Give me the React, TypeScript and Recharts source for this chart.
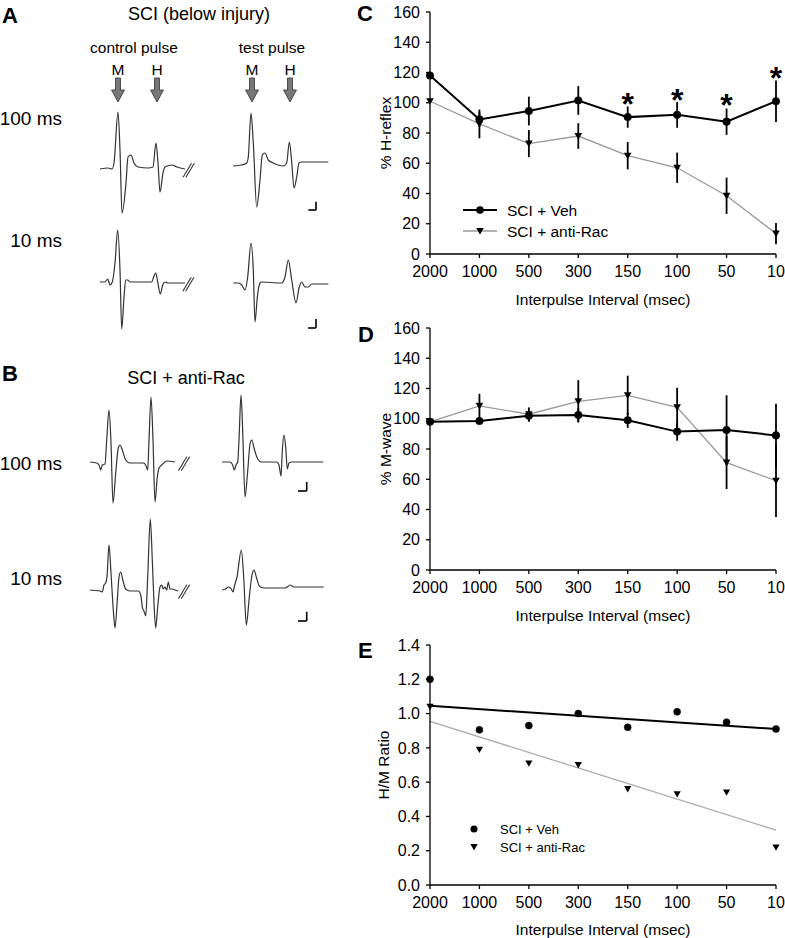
import React from "react";
import { LineChart, Line, XAxis, YAxis, ErrorBar, ReferenceLine } from "recharts";

const font = "'Liberation Sans', Arial, sans-serif";

// x categories shared by C, D, E
const intervals = ["2000", "1000", "500", "300", "150", "100", "50", "10"];

// C: % H-reflex
const hVeh = [118, 89, 94.5, 101.5, 90.5, 92, 87.5, 101];
const hVehErr = [0, 5, 9.5, 9.5, 7, 8.5, 8.7, 13.7];
const hRac = [101, 86, 73, 78, 65, 57, 38.5, 13.5];
const hRacErr = [0, 9.5, 9, 8.5, 9, 10, 12, 7];
const hStar = [null, null, null, null, 104, 106.5, 103, 121];

// D: % M-wave
const mVeh = [98, 98.5, 102, 102.5, 99, 91.5, 92.5, 89];
const mVehErr = [0, 1, 4, 4.5, 5, 6, 23, 21];
const mRac = [98, 108.5, 103, 111.5, 115.5, 107.5, 71, 59];
const mRacErr = [0, 8, 4.5, 14, 13, 13, 17.5, 24];

// E: H/M ratio + regression lines (end values)
const hmVeh = [1.2, 0.905, 0.93, 1.0, 0.92, 1.01, 0.95, 0.91];
const hmRac = [1.04, 0.79, 0.71, 0.7, 0.56, 0.53, 0.54, 0.22];
const hmVehFit = [1.045, null, null, null, null, null, null, 0.91];
const hmRacFit = [0.955, null, null, null, null, null, null, 0.32];

const pctTicks = [0, 20, 40, 60, 80, 100, 120, 140, 160];
const ratioTicks = [0, 0.2, 0.4, 0.6, 0.8, 1.0, 1.2, 1.4];

// EMG traces: time (px-ish units) and amplitude
const aCtl100T = [0, 8, 12, 14, 18, 20, 22, 26, 28, 31, 34, 38, 48, 53, 56, 58, 60, 63, 65, 72, 77, 85];
const aCtl100V = [0, 1, 0, 6, 57, 19, -44, -14, 12, 14, 6, 2, 1, 2, 26, 6, -23, -4, 2, 4, 2, 0];
const aTst100T = [0, 8.7, 13.7, 15.3, 18, 20.3, 23.7, 27, 29.3, 32, 35.3, 40.3, 50.3, 53.7, 56.3, 58.7, 61, 63.7, 66, 68.7, 95.3];
const aTst100V = [0, 1, 3, 9, 53, 23, -41, -14, 11, 13, 6, 3, 0, 3, 24, 4, -22, -11, 3, 4, 4];
const aCtl10T = [0, 5, 7.7, 10, 12.3, 15, 17.7, 20, 21.7, 24, 25.7, 27.7, 30, 51.7, 53.7, 55.7, 57.7, 60.3, 62.7, 65, 67.7, 75, 85];
const aCtl10V = [0, 0, 3, -3, 0, 19, 52, 12, -47, -15, 2, 2, 0, 0, 5, 9, 0, -12, -3, 0, -1, -1, -1];
const aTst10T = [0.3, 5.3, 8.7, 12, 14.7, 18, 20.3, 22, 24.3, 27, 28.7, 48.7, 52, 55.3, 58.7, 63, 66, 68.7, 72, 75.3, 78.7, 95.3];
const aTst10V = [0, 0, -2, -7, 6, 40, 13, -39, -14, 0, 1, 0, 6, 23, 3, -20, -5, 1, -4, -4, -1, -1];
const bCtl100T = [0, 6.7, 9, 10.7, 12.3, 15, 16.7, 19, 21, 23, 25.7, 28.3, 30, 32.3, 35.7, 40, 53.3, 55.7, 57.7, 59, 61, 63, 65, 67.3, 69, 71.7, 76.7, 85];
const bCtl100V = [0, -1, -3, -8, -3, -2, 22, 52, 19, -41, -11, 14, 17, 12, 2, -1, -1, -3, -8, 22, 65, 22, -40, -15, -6, -3, 1, 0];
const bTst100T = [0, 8, 10.7, 12.3, 14, 15.7, 17, 19, 20.7, 23, 25.7, 28, 29.7, 32.3, 35.7, 39.7, 54.7, 57, 59, 60.3, 62, 63.7, 65.3, 67, 69.7, 101.3];
const bTst100V = [0, 0, -3, -8, -3, 0, 22, 67, 31, -35, -9, 18, 22, 13, 3, 0, 0, -3, -14, 11, 27, 15, -7, -1, 0, 0];
const bCtl10T = [0, 10, 12.3, 14, 15.7, 17, 19, 21, 23.3, 25, 27.3, 29, 30.7, 33.3, 35.7, 40, 48.3, 51, 52.3, 54.3, 55.7, 57.7, 60.3, 62.3, 64, 65.7, 67.7, 70, 71.7, 73.3, 75, 76.7, 78.3, 80, 82.3, 85, 88.3];
const bCtl10V = [0, -1, -2, 5, 7, 13, 45, 17, -20, -38, -10, 13, 18, 8, 1, -1, -1, -6, -17, -22, -26, 13, 71, 30, -13, -38, -17, 3, 5, 1, 3, 0, 8, 1, 1, 0, -1];
const bTst10T = [0, 3.3, 6.7, 9.3, 11, 12.7, 15, 19.3, 21.7, 24.3, 27.3, 30, 32, 34.3, 37.3, 41.7, 63.3, 68.3, 71.7, 101.7];
const bTst10V = [-1, 0, 2, 0, -3, 4, 12, 39, 12, -36, -8, 14, 19, 12, 3, 1, 1, 4, 2, 2];

const hData = intervals.map((x, i) => ({ x, veh: hVeh[i], vehErr: hVehErr[i], rac: hRac[i], racErr: hRacErr[i], star: hStar[i] }));
const mData = intervals.map((x, i) => ({ x, veh: mVeh[i], vehErr: mVehErr[i], rac: mRac[i], racErr: mRacErr[i] }));
const rData = intervals.map((x, i) => ({ x, veh: hmVeh[i], rac: hmRac[i], vehFit: hmVehFit[i], racFit: hmRacFit[i] }));

const tickStyle = { fontSize: 16, fill: "#000", fontFamily: font };
const titleStyle = { fontSize: 15.5, fill: "#000", fontFamily: font };

const triPath = (cx, cy, s) => `M${cx - s},${cy - s * 0.8} L${cx + s},${cy - s * 0.8} L${cx},${cy + s * 0.95} Z`;

const triDot = (s) => (props) => {
  const { cx, cy, index } = props;
  if (cx == null || cy == null) return <g key={"t" + index} />;
  return <path key={"t" + index} d={triPath(cx, cy, s)} fill="#000" />;
};

const starDot = (props) => {
  const { cx, cy, index } = props;
  if (cx == null || cy == null || props.value == null) return <g key={"s" + index} />;
  return (
    <text key={"s" + index} x={cx} y={cy + 18} textAnchor="middle" fontSize={32} fontWeight="bold" fontFamily={font} fill="#000">
      *
    </text>
  );
};

function Panel({ top, height = 310, labelX, data, domain, ticks, fmt, yLabel, titleOffset = 5, children }) {
  return (
    <div style={{ position: "absolute", left: 370, top }}>
      <LineChart width={415} height={height} data={data} margin={{ top: 12, right: 9, bottom: 0, left: 0 }}>
        <XAxis
          dataKey="x"
          height={56}
          interval={0}
          tickSize={4}
          tickMargin={8}
          tick={tickStyle}
          axisLine={{ stroke: "#000", strokeWidth: 1.3 }}
          tickLine={{ stroke: "#000", strokeWidth: 1.3 }}
          label={{ value: "Interpulse Interval (msec)", position: "insideBottom", offset: titleOffset, style: titleStyle }}
        />
        <YAxis
          width={60}
          domain={domain}
          ticks={ticks}
          tickFormatter={fmt}
          tickSize={4}
          tickMargin={6}
          tick={tickStyle}
          axisLine={{ stroke: "#000", strokeWidth: 1.3 }}
          tickLine={{ stroke: "#000", strokeWidth: 1.3 }}
          label={{ value: yLabel, angle: -90, position: "insideLeft", offset: labelX, style: { ...titleStyle, textAnchor: "middle" } }}
        />
        {children}
      </LineChart>
    </div>
  );
}

function Trace({ t, v, left, base, brk, bar }) {
  const data = t.map((tt, i) => ({ t: tt, v: v[i] }));
  return (
    <div style={{ position: "absolute", left, top: base - 75 }}>
      <LineChart width={105} height={130} data={data} margin={{ top: 0, right: 0, bottom: 0, left: 0 }}>
        <XAxis type="number" dataKey="t" domain={[0, 105]} hide />
        <YAxis type="number" domain={[-55, 75]} hide />
        <Line type="monotone" dataKey="v" stroke="#333" strokeWidth={1.2} dot={false} activeDot={false} isAnimationActive={false} />
        {brk &&
          [-1.4, 1.4].map((d) => (
            <ReferenceLine
              key={d}
              segment={[{ x: brk[0] + d - 4.2, y: brk[1] - 7 }, { x: brk[0] + d + 4.2, y: brk[1] + 7 }]}
              stroke="#333"
              strokeWidth={1.1}
              ifOverflow="visible"
            />
          ))}
        {bar && (
          <ReferenceLine segment={[{ x: bar[0], y: bar[1] + bar[3] }, { x: bar[0], y: bar[1] }]} stroke="#000" strokeWidth={1.6} ifOverflow="visible" />
        )}
        {bar && (
          <ReferenceLine segment={[{ x: bar[0] - bar[2], y: bar[1] }, { x: bar[0], y: bar[1] }]} stroke="#000" strokeWidth={1.6} ifOverflow="visible" />
        )}
      </LineChart>
    </div>
  );
}

const arrowX = [118, 157, 252, 290];

function Arrow({ x }) {
  const d = `M${x - 2.5},78 L${x + 2.5},78 L${x + 2.5},90 L${x + 6.5},90 L${x},102 L${x - 6.5},90 L${x - 2.5},90 Z`;
  return <path d={d} fill="#777" stroke="#333" strokeWidth={0.8} />;
}

export default function App() {
  const txt = { fontFamily: font, fill: "#000" };
  return (
    <div style={{ position: "absolute", left: 0, top: 0, width: 785, height: 938, overflow: "hidden", background: "#fff", fontFamily: font }}>
      <svg width={785} height={938} style={{ position: "absolute", left: 0, top: 0 }}>
        <text x={2} y={22.5} fontSize={22} fontWeight="bold" {...txt}>A</text>
        <text x={2} y={381} fontSize={22} fontWeight="bold" {...txt}>B</text>
        <text x={357} y={20.5} fontSize={22} fontWeight="bold" {...txt}>C</text>
        <text x={358} y={342} fontSize={22} fontWeight="bold" {...txt}>D</text>
        <text x={358} y={658} fontSize={22} fontWeight="bold" {...txt}>E</text>
        <text x={199} y={19.5} fontSize={18} textAnchor="middle" {...txt}>SCI (below injury)</text>
        <text x={186} y={383.5} fontSize={18} textAnchor="middle" {...txt}>SCI + anti-Rac</text>
        <text x={134} y={53} fontSize={15.5} textAnchor="middle" {...txt}>control pulse</text>
        <text x={272} y={53} fontSize={15.5} textAnchor="middle" {...txt}>test pulse</text>
        {["M", "H", "M", "H"].map((s, i) => (
          <text key={i} x={arrowX[i]} y={75} fontSize={15.5} textAnchor="middle" {...txt}>{s}</text>
        ))}
        {arrowX.map((x) => (
          <Arrow key={x} x={x} />
        ))}
        <text x={62} y={125} fontSize={19} textAnchor="end" {...txt}>100 ms</text>
        <text x={62} y={246.5} fontSize={19} textAnchor="end" {...txt}>10 ms</text>
        <text x={62} y={470} fontSize={19} textAnchor="end" {...txt}>100 ms</text>
        <text x={62} y={585} fontSize={19} textAnchor="end" {...txt}>10 ms</text>

        {/* legend C */}
        <line x1={463} x2={497} y1={210} y2={210} stroke="#000" strokeWidth={2} />
        <circle cx={480} cy={210} r={3.8} fill="#000" />
        <text x={507} y={215.5} fontSize={15.5} {...txt}>SCI + Veh</text>
        <line x1={463} x2={497} y1={231} y2={231} stroke="#999" strokeWidth={1.3} />
        <path d={triPath(480, 231, 3.8)} fill="#000" />
        <text x={507} y={236.5} fontSize={15.5} {...txt}>SCI + anti-Rac</text>

        {/* legend E */}
        <circle cx={474} cy={829} r={3.5} fill="#000" />
        <text x={500} y={833.6} fontSize={13} {...txt}>SCI + Veh</text>
        <path d={triPath(474, 847, 3.6)} fill="#000" />
        <text x={500} y={851.6} fontSize={13} {...txt}>SCI + anti-Rac</text>
      </svg>

      <Trace t={aCtl100T} v={aCtl100V} left={100} base={169} brk={[88.7, -1.3]} />
      <Trace t={aTst100T} v={aTst100V} left={233} base={166} bar={[83, -44, 7.7, 8.3]} />
      <Trace t={aCtl10T} v={aCtl10V} left={100} base={282} brk={[88.4, -2.3]} />
      <Trace t={aTst10T} v={aTst10V} left={233} base={283} bar={[83, -45, 8, 9]} />
      <Trace t={bCtl100T} v={bCtl100V} left={90} base={462} brk={[94, -1.8]} />
      <Trace t={bTst100T} v={bTst100V} left={222} base={461.5} bar={[84.7, -29, 8.7, 9]} />
      <Trace t={bCtl10T} v={bCtl10V} left={90} base={590} brk={[94, -1.7]} />
      <Trace t={bTst10T} v={bTst10V} left={222} base={589} bar={[84.7, -32, 8.7, 9.3]} />

      <Panel top={0} labelX={15} data={hData} domain={[0, 160]} ticks={pctTicks} yLabel="% H-reflex">
        <Line dataKey="rac" stroke="#999" strokeWidth={1.3} dot={triDot(3.8)} activeDot={false} isAnimationActive={false}>
          <ErrorBar dataKey="racErr" width={0} stroke="#000" strokeWidth={1.8} direction="y" />
        </Line>
        <Line dataKey="veh" stroke="#000" strokeWidth={2} dot={{ r: 3.8, fill: "#000", stroke: "#000", strokeWidth: 0.5 }} activeDot={false} isAnimationActive={false}>
          <ErrorBar dataKey="vehErr" width={0} stroke="#000" strokeWidth={1.8} direction="y" />
        </Line>
        <Line dataKey="star" stroke="none" dot={starDot} activeDot={false} isAnimationActive={false} />
      </Panel>

      <Panel top={316} labelX={15} data={mData} domain={[0, 160]} ticks={pctTicks} yLabel="% M-wave">
        <Line dataKey="rac" stroke="#999" strokeWidth={1.3} dot={triDot(3.8)} activeDot={false} isAnimationActive={false}>
          <ErrorBar dataKey="racErr" width={0} stroke="#000" strokeWidth={1.8} direction="y" />
        </Line>
        <Line dataKey="veh" stroke="#000" strokeWidth={2} dot={{ r: 3.8, fill: "#000", stroke: "#000", strokeWidth: 0.5 }} activeDot={false} isAnimationActive={false}>
          <ErrorBar dataKey="vehErr" width={0} stroke="#000" strokeWidth={1.8} direction="y" />
        </Line>
      </Panel>

      <Panel top={633} height={308} titleOffset={6} labelX={13} data={rData} domain={[0, 1.4]} ticks={ratioTicks} fmt={(v) => v.toFixed(1)} yLabel="H/M Ratio">
        <Line dataKey="racFit" stroke="#aaa" strokeWidth={1.3} dot={false} connectNulls activeDot={false} isAnimationActive={false} />
        <Line dataKey="vehFit" stroke="#000" strokeWidth={2} dot={false} connectNulls activeDot={false} isAnimationActive={false} />
        <Line dataKey="veh" stroke="none" dot={{ r: 3.5, fill: "#000", stroke: "#000", strokeWidth: 0.5 }} activeDot={false} isAnimationActive={false} />
        <Line dataKey="rac" stroke="none" dot={triDot(3.6)} activeDot={false} isAnimationActive={false} />
      </Panel>
    </div>
  );
}
